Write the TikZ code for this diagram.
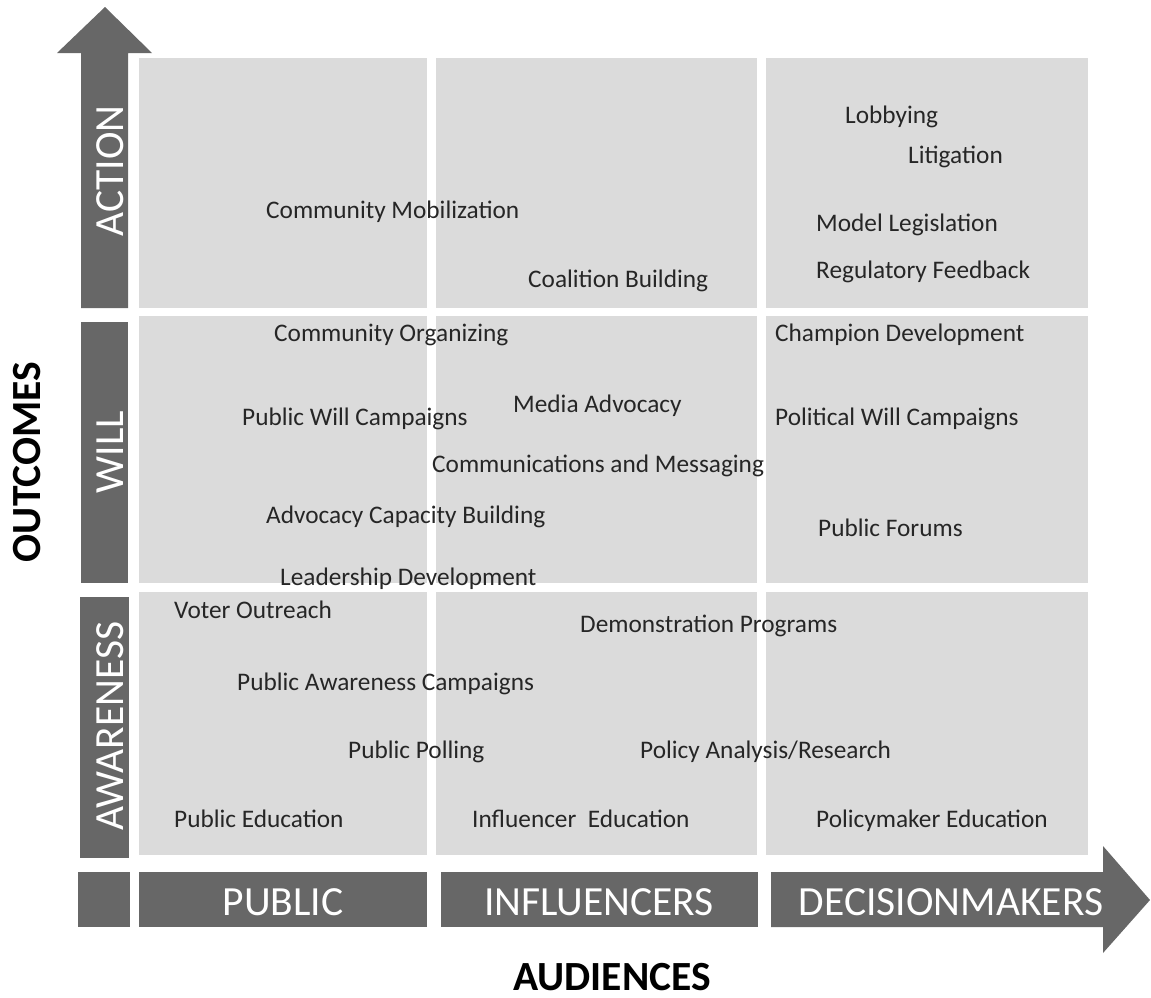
\documentclass[tikz,border=0pt]{standalone}
\usepackage{fontspec}
\setmainfont{Carlito}
\definecolor{barfill}{HTML}{676767}
\definecolor{cellfill}{HTML}{DBDBDB}
\definecolor{inktext}{HTML}{262626}
\begin{document}
\begin{tikzpicture}[x=1pt,y=-1pt,
  cell/.style={fill=cellfill,draw=none},
  bar/.style={fill=barfill,draw=none},
  item/.style={anchor=base west,inner sep=0pt,text=inktext,
    font=\fontsize{25.3}{30}\selectfont},
  barlabel/.style={inner sep=0pt,text=white,
    font=\fontsize{41.5}{48}\selectfont},
  axislabel/.style={inner sep=0pt,text=black,
    font=\fontsize{41.5}{48}\selectfont\bfseries}]
\useasboundingbox (0,0) rectangle (1151,997);

% grid of cells: three audiences by three outcome levels
\foreach \xa/\xb in {139/427,436/757,766/1088}
  \foreach \ya/\yb in {58/308,316/583,592/855}
    \fill[cell] (\xa,\ya) rectangle (\xb,\yb);

% vertical outcome arrow, split into three segments
\fill[bar] (81,308) -- (81,53) -- (57,53) -- (105,7) -- (152,53)
  -- (128,53) -- (128,308) -- cycle;
\fill[bar] (81,322) rectangle (128,583);
\fill[bar] (80,597) rectangle (129,858);

% horizontal audience arrow, split into three segments plus corner block
\fill[bar] (78,872) rectangle (130,927);
\fill[bar] (139,872) rectangle (427,927);
\fill[bar] (441,872) rectangle (758,927);
\fill[bar] (771,872) -- (1103,872) -- (1103,846) -- (1150,900)
  -- (1103,953) -- (1103,927) -- (771,927) -- cycle;

% segment labels
\node[barlabel,rotate=90,anchor=base] (action) at (123,171) {ACTION};
\node[barlabel,rotate=90,anchor=base] (will) at (123,452) {WILL};
\node[barlabel,rotate=90,anchor=base] (awareness) at (123,726) {AWARENESS};
\node[barlabel,anchor=base] (public) at (283,915) {PUBLIC};
\node[barlabel,anchor=base] (influencers) at (599,915) {INFLUENCERS};
\node[barlabel,anchor=base] (decisionmakers) at (951,915) {DECISIONMAKERS};

% axis titles
\node[axislabel,rotate=90,anchor=base] (outcomes) at (40,462) {OUTCOMES};
\node[axislabel,anchor=base] (audiences) at (612,990) {AUDIENCES};

% advocacy strategies
\node[item] (lobbying) at (845,123) {Lobbying};
\node[item] (litigation) at (908,163) {Litigation};
\node[item] (mobilization) at (266,218) {Community Mobilization};
\node[item] (legislation) at (816,231) {Model Legislation};
\node[item] (regulatory) at (816,278) {Regulatory Feedback};
\node[item] (coalition) at (528,287) {Coalition Building};
\node[item] (organizing) at (274,341) {Community Organizing};
\node[item] (champion) at (775,341) {Champion Development};
\node[item] (media) at (513,412) {Media Advocacy};
\node[item] (publicwill) at (242,425) {Public Will Campaigns};
\node[item] (politicalwill) at (775,425) {Political Will Campaigns};
\node[item] (messaging) at (432,472) {Communications and Messaging};
\node[item] (capacity) at (266,523) {Advocacy Capacity Building};
\node[item] (forums) at (818,536) {Public Forums};
\node[item] (leadership) at (280,585) {Leadership Development};
\node[item] (voter) at (174,618) {Voter Outreach};
\node[item] (demonstration) at (580,632) {Demonstration Programs};
\node[item] (awarenesscamp) at (237,690) {Public Awareness Campaigns};
\node[item] (polling) at (348,758) {Public Polling};
\node[item] (policyanalysis) at (640,758) {Policy Analysis/Research};
\node[item] (publicedu) at (174,827) {Public Education};
\node[item] (influenceredu) at (472,827) {Influencer\ \ Education};
\node[item] (policyedu) at (816,827) {Policymaker Education};
\end{tikzpicture}
\end{document}
